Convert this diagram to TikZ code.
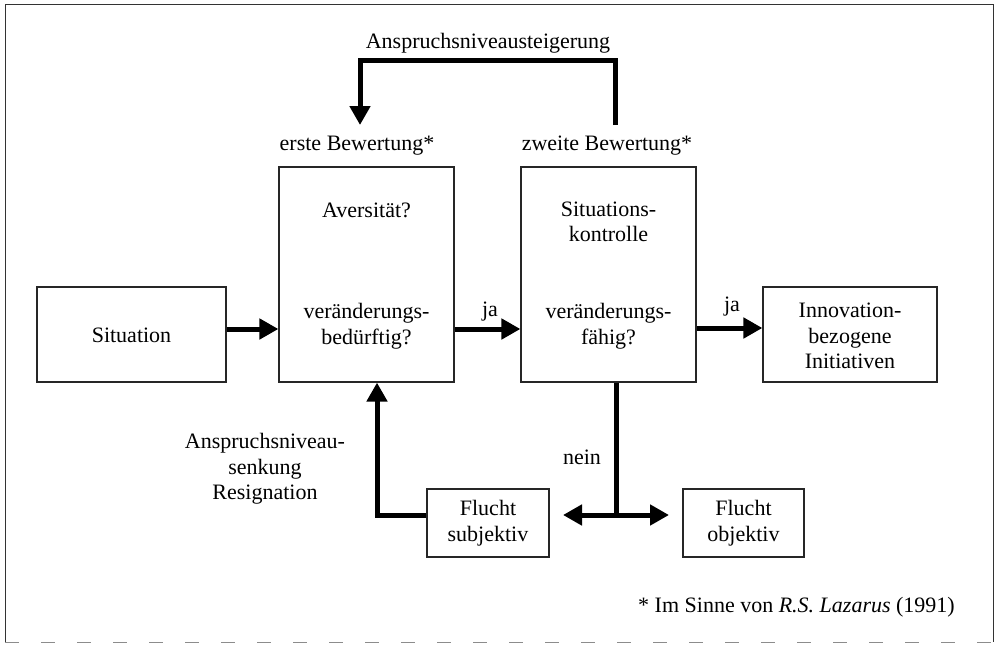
\documentclass[tikz,border=0pt]{standalone}
\usepackage{fontspec}
\setmainfont{Liberation Serif}
\usetikzlibrary{arrows.meta}
\begin{document}
\begin{tikzpicture}[x=1pt,y=-1pt,
  every node/.style={font=\fontsize{22}{25.5}\selectfont},
  boxnode/.style={draw=black!85,line width=1.2pt,inner sep=0pt},
  txt/.style={align=center,inner sep=0pt},
  arr/.style={line width=5pt,-{Triangle[length=19pt,width=20pt]}},
  thickline/.style={line width=5pt}
]
\useasboundingbox (0,0) rectangle (996,645);
% frame
\draw[line width=1pt,black!80] (5,642) -- (5,4) -- (993,4) -- (993,642);
\draw[line width=1pt,black!45,dash pattern=on 14pt off 22pt] (5,642) -- (993,642);

% boxes
\node[boxnode,minimum width=189pt,minimum height=95pt] (sit) at (131.5,334.5) {};
\node[boxnode,minimum width=175pt,minimum height=215pt] (b1) at (366.5,274.5) {};
\node[boxnode,minimum width=175pt,minimum height=215pt] (b2) at (608.5,274.5) {};
\node[boxnode,minimum width=174pt,minimum height=95pt] (inn) at (850,334.5) {};
\node[boxnode,minimum width=122pt,minimum height=68pt] (fs) at (488,523) {};
\node[boxnode,minimum width=121pt,minimum height=68pt] (fo) at (743.5,523) {};

% texts
\node[txt] (tsit) at (131.5,335) {Situation};
\node[txt] (ta1) at (366.5,210) {Aversität?};
\node[txt] (ta2) at (366.5,326) {veränderungs-\\bedürftig?};
\node[txt] (tb1) at (608.5,222) {Situations-\\kontrolle};
\node[txt] (tb2) at (608.5,326) {veränderungs-\\fähig?};
\node[txt] (tinn) at (850,336) {Innovation-\\bezogene\\Initiativen};
\node[txt] (tfs) at (488,523) {Flucht\\subjektiv};
\node[txt] (tfo) at (743.5,523) {Flucht\\objektiv};
\node[txt] (l1) at (357,146) {erste Bewertung*};
\node[txt] (l2) at (607,146) {zweite Bewertung*};
\node[txt] (ltop) at (488,43) {Anspruchsniveausteigerung};
\node[txt] (ja1) at (490,312) {ja};
\node[txt] (ja2) at (732,307) {ja};
\node[txt] (nein) at (582,457) {nein};
\node[txt] (lsenk) at (265,469) {Anspruchsniveau-\\senkung\\Resignation};
\node[txt,anchor=east] (foot) at (955,607) {* Im Sinne von \textit{R.S. Lazarus} (1991)};

% coordinates
\coordinate (split) at (616,515);
\coordinate (lt) at (563,515);
\coordinate (rt) at (669,515);
\coordinate (topR) at (615,125);
\coordinate (topL) at (360,125);

% connectors
\draw[arr] (sit.east |- 0,329) -- (b1.west |- 0,329);
\draw[arr] (b1.east |- 0,329) -- (b2.west |- 0,329);
\draw[arr] (b2.east |- 0,328) -- (inn.west |- 0,328);
\draw[thickline] (b2.south -| split) -- (split);
\draw[arr] (split) -- (lt);
\draw[arr] (split) -- (rt);
\draw[arr] (fs.west |- 0,515) -- (377,515) -- (b1.south -| 377,0);
\draw[arr] (topR) -- (615,60) -- (360,60) -- (topL);
\end{tikzpicture}
\end{document}
